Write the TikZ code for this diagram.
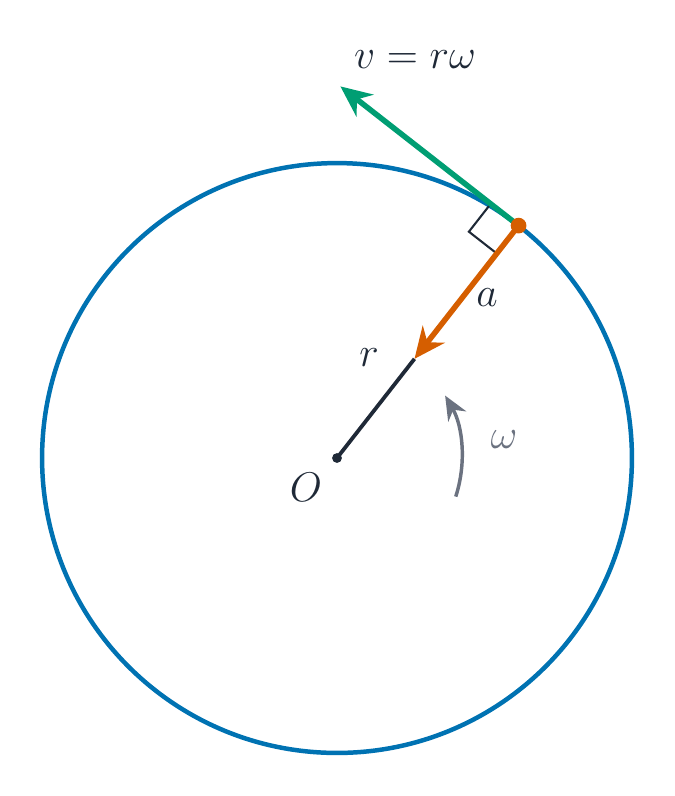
\documentclass[tikz,border=0pt]{standalone}
\usepackage{amsmath}
\usepackage{amsfonts}
\usetikzlibrary{arrows.meta,calc}

\definecolor{circblue}{HTML}{0072B2}
\definecolor{accorange}{HTML}{D55E00}
\definecolor{velgreen}{HTML}{009E73}
\definecolor{inkdark}{HTML}{1F2937}
\definecolor{inkgrey}{HTML}{6B7280}

\begin{document}
\begin{tikzpicture}[font=\large, text=inkdark,
        vec/.style={line width=1.6pt, -{Stealth[length=9pt,width=8pt]}}]
            \useasboundingbox (-3.428,-3.438) rectangle (3.438,4.659);

            \coordinate (O) at (0, 0);
            \coordinate (P) at (52:3);
            \coordinate (acc) at (52:1.28);
            \coordinate (vel) at ($(P)+(142:2.3)$);
            \coordinate (w0) at (-18:1.27);

            \draw [circblue, line width=1.3pt] (O) circle[radius=3];
            \draw [inkdark, line width=1.1pt] (O) -- (acc);
            \draw [inkdark, line width=0.6pt]
                ($(P)+(142:0.36)$) -- ++(232:0.36) -- ++(-38:0.36);

            \draw [vec, velgreen] (P) -- (vel);
            \draw [vec, accorange] (P) -- (acc);
            \fill [accorange] (P) circle[radius=0.08];
            \fill [inkdark] (O) circle[radius=0.05];
            \draw [inkgrey, line width=1pt, -{Stealth[length=7pt,width=6pt]}]
                (w0) arc[start angle=-18, end angle=30, radius=1.27];

            \node (Olabel) at (-0.315, -0.295) {$O$};
            \node (rlabel) at (0.326, 1.017) {$r$};
            \node (alabel) at (1.526, 1.627) {$a$};
            \node (wlabel)[text=inkgrey] at (1.699, 0.183) {$\omega$};
            \node (vlabel) at (0.793, 4.049) {$v = r\omega$};
         \end{tikzpicture}
\end{document}
